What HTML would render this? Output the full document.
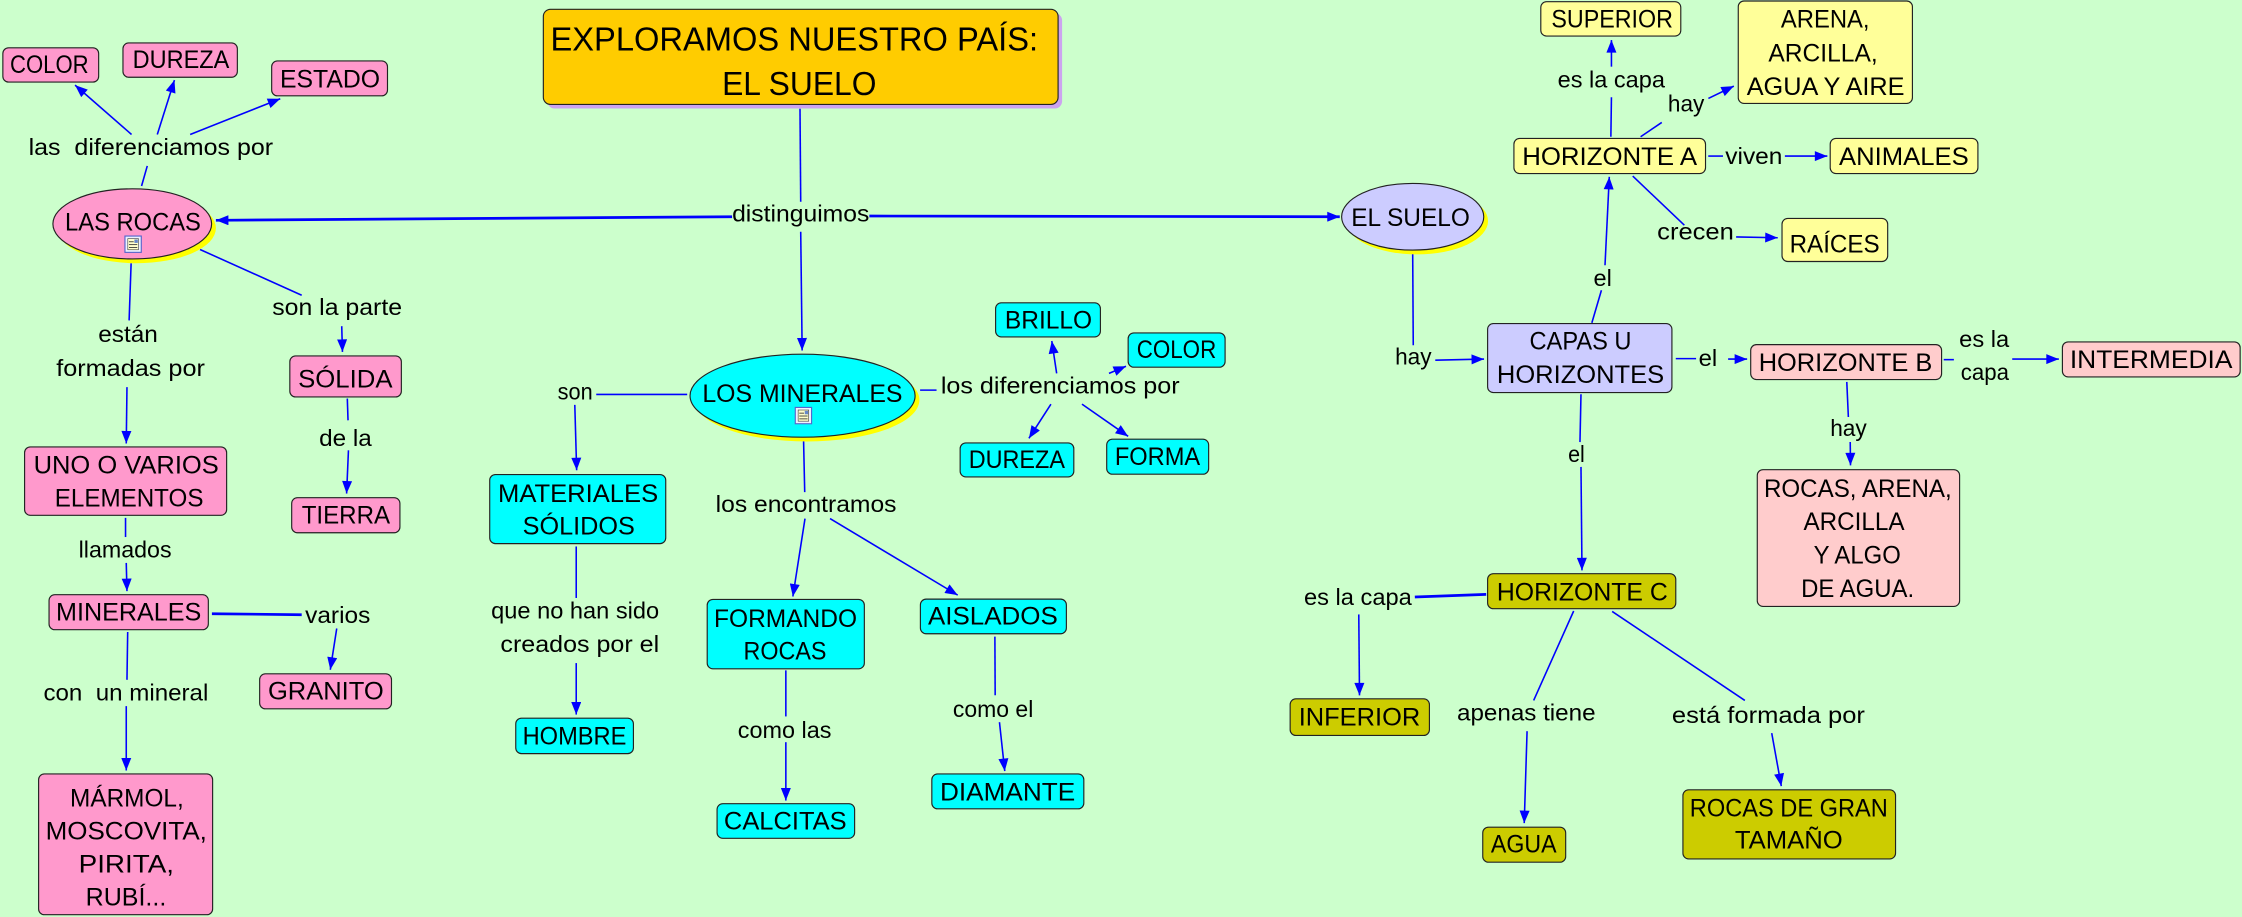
<!DOCTYPE html>
<html><head><meta charset="utf-8"><style>
html,body{margin:0;padding:0;background:#CCFFCC;}
svg{display:block;}
text{font-family:"Liberation Sans",sans-serif;fill:#000;}
.n{font-size:17.5px;}
.l{font-size:16px;}
.t{font-size:23.5px;}
.ln{stroke:#0000FF;stroke-width:1.1;fill:none;}
.lt{stroke:#0000FF;stroke-width:1.9;fill:none;}
.bx{stroke:#222;stroke-width:0.8;}
</style></head><body>
<svg width="2242" height="917" viewBox="0 0 1568 641" preserveAspectRatio="none" xmlns="http://www.w3.org/2000/svg">
<defs>
<marker id="a" viewBox="0 0 10 8" refX="10" refY="4" markerWidth="9" markerHeight="7" markerUnits="userSpaceOnUse" orient="auto"><path d="M0,0 L10,4 L0,8 z" fill="#0000FF"/></marker>
</defs>
<rect x="0" y="0" width="1568" height="641" fill="#CCFFCC"/>

<!-- connectors -->
<g class="ln">
<line x1="92" y1="94" x2="52.5" y2="59.5" marker-end="url(#a)"/>
<line x1="110" y1="94" x2="122" y2="56" marker-end="url(#a)"/>
<line x1="133" y1="94" x2="196" y2="69" marker-end="url(#a)"/>
<line x1="99" y1="130" x2="103" y2="116"/>
<line x1="559.5" y1="76" x2="560" y2="141"/>
<line x1="560" y1="162" x2="561" y2="245" marker-end="url(#a)"/>
<line x1="643.5" y1="272.7" x2="655" y2="272.7"/>
<line x1="739" y1="261" x2="735.6" y2="238.4" marker-end="url(#a)"/>
<line x1="775.6" y1="261" x2="787.5" y2="256" marker-end="url(#a)"/>
<line x1="735" y1="282.5" x2="719.6" y2="306.4" marker-end="url(#a)"/>
<line x1="756.7" y1="282.5" x2="789" y2="305" marker-end="url(#a)"/>
<line x1="417" y1="275.7" x2="480.6" y2="275.7"/>
<line x1="402" y1="283" x2="403.3" y2="328.7" marker-end="url(#a)"/>
<line x1="403" y1="382" x2="403" y2="418"/>
<line x1="403" y1="463.5" x2="403" y2="499.5" marker-end="url(#a)"/>
<line x1="562" y1="308" x2="562.8" y2="344"/>
<line x1="563" y1="362.5" x2="554.5" y2="417" marker-end="url(#a)"/>
<line x1="580.5" y1="362.5" x2="669.8" y2="416" marker-end="url(#a)"/>
<line x1="549.6" y1="468.6" x2="549.6" y2="500.8"/>
<line x1="549.6" y1="518.8" x2="549.6" y2="559.6" marker-end="url(#a)"/>
<line x1="695.8" y1="445" x2="696" y2="486"/>
<line x1="699" y1="504.8" x2="702.7" y2="539" marker-end="url(#a)"/>
<line x1="91.7" y1="184" x2="90.3" y2="224"/>
<line x1="88.8" y1="270.6" x2="88.3" y2="310" marker-end="url(#a)"/>
<line x1="139.9" y1="174.4" x2="211" y2="206.4"/>
<line x1="239" y1="228" x2="239.5" y2="246" marker-end="url(#a)"/>
<line x1="242.9" y1="278.6" x2="243.4" y2="293.8"/>
<line x1="243.7" y1="314.8" x2="242.4" y2="345" marker-end="url(#a)"/>
<line x1="87.8" y1="362" x2="87.8" y2="375.4"/>
<line x1="88.3" y1="393.5" x2="88.8" y2="413.2" marker-end="url(#a)"/>
<line x1="235.5" y1="439.3" x2="231" y2="468.2" marker-end="url(#a)"/>
<line x1="89.3" y1="441.8" x2="88.8" y2="475.2"/>
<line x1="88.3" y1="493.6" x2="88.3" y2="538.6" marker-end="url(#a)"/>
<line x1="988" y1="177" x2="988.4" y2="241.3"/>
<line x1="1003.8" y1="251.8" x2="1037.9" y2="251" marker-end="url(#a)"/>
<line x1="1113.3" y1="225.7" x2="1120" y2="202.9"/>
<line x1="1122.5" y1="185.4" x2="1125.5" y2="123.6" marker-end="url(#a)"/>
<line x1="1126.6" y1="95.6" x2="1127" y2="68"/>
<line x1="1127" y1="46.6" x2="1127" y2="28" marker-end="url(#a)"/>
<line x1="1147.4" y1="95.6" x2="1162.2" y2="85.6"/>
<line x1="1194.8" y1="68.8" x2="1212.6" y2="60.2" marker-end="url(#a)"/>
<line x1="1194.7" y1="109.1" x2="1205" y2="109.1"/>
<line x1="1248.3" y1="109.1" x2="1278" y2="109.1" marker-end="url(#a)"/>
<line x1="1141.9" y1="123.1" x2="1178" y2="157.4"/>
<line x1="1214.2" y1="165.6" x2="1243.3" y2="166.2" marker-end="url(#a)"/>
<line x1="1172" y1="250.7" x2="1186.2" y2="250.7"/>
<line x1="1208.6" y1="251" x2="1221.9" y2="251" marker-end="url(#a)"/>
<line x1="1359.4" y1="251.4" x2="1366.5" y2="251.4"/>
<line x1="1407.3" y1="251" x2="1439.9" y2="251" marker-end="url(#a)"/>
<line x1="1291.6" y1="267" x2="1292.7" y2="291.5"/>
<line x1="1294" y1="309" x2="1294.2" y2="325.3" marker-end="url(#a)"/>
<line x1="1105.7" y1="275.6" x2="1105" y2="309"/>
<line x1="1105.7" y1="326.4" x2="1106.4" y2="398.7" marker-end="url(#a)"/>
<line x1="950.3" y1="429.5" x2="950.8" y2="486.1" marker-end="url(#a)"/>
<line x1="1100.6" y1="427.1" x2="1072.6" y2="489.6"/>
<line x1="1068" y1="511.1" x2="1066" y2="575.4" marker-end="url(#a)"/>
<line x1="1127.5" y1="427.4" x2="1220.3" y2="489.6"/>
<line x1="1239.1" y1="512.5" x2="1245.8" y2="549.5" marker-end="url(#a)"/>
</g>
<g class="lt">
<line x1="512" y1="151.5" x2="151" y2="154" marker-end="url(#a)"/>
<line x1="608" y1="151" x2="937" y2="151.5" marker-end="url(#a)"/>
<line x1="148.2" y1="429" x2="211" y2="429.7"/>
<line x1="1039.4" y1="415.5" x2="989.5" y2="417.3"/>
</g>

<!-- title -->
<rect x="382.8" y="9.3" width="360" height="66.5" rx="5" fill="#CCA3F0"/>
<rect class="bx" x="380" y="6.5" width="360" height="66.5" rx="5" fill="#FFCC00"/>
<text class="t" x="385" y="35.4" textLength="341" lengthAdjust="spacingAndGlyphs">EXPLORAMOS NUESTRO PAÍS:</text>
<text class="t" x="505" y="66.4" textLength="108" lengthAdjust="spacingAndGlyphs">EL SUELO</text>

<!-- ellipses -->
<ellipse cx="95.5" cy="159.5" rx="55.5" ry="24.5" fill="#FFFF00"/>
<ellipse class="bx" cx="92.5" cy="156.5" rx="55.5" ry="24.5" fill="#FF99CC"/>
<ellipse cx="564.3" cy="279.6" rx="78.7" ry="29" fill="#FFFF00"/>
<ellipse class="bx" cx="561.3" cy="276.6" rx="78.7" ry="29" fill="#00FFFF"/>
<ellipse cx="991" cy="154.5" rx="49.7" ry="23.3" fill="#FFFF00"/>
<ellipse class="bx" cx="988" cy="151.5" rx="49.7" ry="23.3" fill="#CCCCFF" stroke-width="1.1"/>

<!-- icons -->
<g>
<rect x="87.4" y="165" width="11.4" height="11.4" fill="#EEF2FF" stroke="#5566CC" stroke-width="0.8"/>
<rect x="89.4" y="166.8" width="7.4" height="7.8" fill="#FFFFCC" stroke="#333" stroke-width="0.4"/>
<line x1="90.2" y1="169" x2="93.5" y2="169" stroke="#333" stroke-width="0.6"/>
<line x1="90.2" y1="171" x2="96" y2="171" stroke="#333" stroke-width="0.6"/>
<line x1="90.2" y1="173" x2="96" y2="173" stroke="#333" stroke-width="0.6"/>
<rect x="94" y="167.4" width="2.4" height="2.4" fill="#6688CC"/>
</g>
<g>
<rect x="556.2" y="284.8" width="11.4" height="11.4" fill="#EEF2FF" stroke="#5566CC" stroke-width="0.8"/>
<rect x="558.2" y="286.6" width="7.4" height="7.8" fill="#FFFFCC" stroke="#333" stroke-width="0.4"/>
<line x1="559" y1="288.8" x2="562.3" y2="288.8" stroke="#333" stroke-width="0.6"/>
<line x1="559" y1="290.8" x2="564.8" y2="290.8" stroke="#333" stroke-width="0.6"/>
<line x1="559" y1="292.8" x2="564.8" y2="292.8" stroke="#333" stroke-width="0.6"/>
<rect x="562.8" y="287.2" width="2.4" height="2.4" fill="#6688CC"/>
</g>

<!-- pink nodes -->
<g class="bx" fill="#FF99CC">
<rect x="2" y="33.4" width="67" height="24" rx="4"/>
<rect x="86" y="30" width="80" height="24" rx="4"/>
<rect x="190" y="42.6" width="81" height="24.4" rx="4"/>
<rect x="202.7" y="248.8" width="78" height="28.7" rx="4"/>
<rect x="204" y="347.9" width="75.7" height="24.5" rx="4"/>
<rect x="17.2" y="312.4" width="141.3" height="47.8" rx="4"/>
<rect x="34.3" y="415.7" width="111.4" height="24.5" rx="4"/>
<rect x="181.6" y="471" width="92.2" height="24.5" rx="4"/>
<rect x="27" y="541" width="121.7" height="98.4" rx="4"/>
</g>
<!-- cyan nodes -->
<g class="bx" fill="#00FFFF">
<rect x="696.3" y="211.7" width="73.3" height="23.8" rx="4"/>
<rect x="789" y="232.7" width="67.8" height="24" rx="4"/>
<rect x="671.5" y="309.6" width="79.5" height="23.8" rx="4"/>
<rect x="774" y="307" width="71.3" height="24.5" rx="4"/>
<rect x="342.5" y="331.7" width="123.1" height="48.3" rx="4"/>
<rect x="360.7" y="502" width="82.3" height="24.8" rx="4"/>
<rect x="494.6" y="419" width="109.9" height="48.5" rx="4"/>
<rect x="501.5" y="561.8" width="96.2" height="24.2" rx="4"/>
<rect x="643.7" y="418.8" width="102.1" height="24.2" rx="4"/>
<rect x="651.7" y="541" width="106.3" height="24.4" rx="4"/>
</g>
<!-- yellow nodes -->
<g class="bx" fill="#FFFF99">
<rect x="1077.6" y="1.2" width="97.9" height="24" rx="4"/>
<rect x="1215.7" y="0.7" width="121.8" height="71.6" rx="4"/>
<rect x="1058.8" y="96.8" width="134" height="24.5" rx="4"/>
<rect x="1280" y="96.8" width="103.3" height="24.5" rx="4"/>
<rect x="1246.3" y="152.7" width="73.9" height="30.1" rx="4"/>
</g>
<rect class="bx" x="1040.4" y="226.2" width="128.9" height="48.2" rx="4" fill="#CCCCFF"/>
<g class="bx" fill="#FFCCCC">
<rect x="1224.4" y="240.9" width="133.5" height="24.4" rx="4"/>
<rect x="1442.4" y="239" width="124.3" height="24.5" rx="4"/>
<rect x="1229" y="328.3" width="141.5" height="95.6" rx="4"/>
</g>
<g class="bx" fill="#CCCC00">
<rect x="1040.4" y="401" width="131.6" height="24.5" rx="4"/>
<rect x="902.3" y="488.5" width="97.4" height="25.6" rx="4"/>
<rect x="1037" y="578.2" width="58" height="24.5" rx="4"/>
<rect x="1177" y="552.1" width="148.7" height="48.3" rx="4"/>
</g>

<!-- node text -->
<g class="n">
<text x="7" y="51" textLength="55" lengthAdjust="spacingAndGlyphs">COLOR</text>
<text x="92.8" y="47.6" textLength="67.6" lengthAdjust="spacingAndGlyphs">DUREZA</text>
<text x="195.8" y="61" textLength="70" lengthAdjust="spacingAndGlyphs">ESTADO</text>
<text x="45.5" y="161.3" textLength="95" lengthAdjust="spacingAndGlyphs">LAS ROCAS</text>
<text x="208.5" y="271" textLength="66" lengthAdjust="spacingAndGlyphs">SÓLIDA</text>
<text x="211" y="366" textLength="61.8" lengthAdjust="spacingAndGlyphs">TIERRA</text>
<text x="23.5" y="331" textLength="129.5" lengthAdjust="spacingAndGlyphs">UNO O VARIOS</text>
<text x="38.3" y="353.9" textLength="104" lengthAdjust="spacingAndGlyphs">ELEMENTOS</text>
<text x="39.2" y="433.6" textLength="101.6" lengthAdjust="spacingAndGlyphs">MINERALES</text>
<text x="187.4" y="488.8" textLength="81" lengthAdjust="spacingAndGlyphs">GRANITO</text>
<text x="49" y="563.6" textLength="79.5" lengthAdjust="spacingAndGlyphs">MÁRMOL,</text>
<text x="31.9" y="586.7" textLength="112.8" lengthAdjust="spacingAndGlyphs">MOSCOVITA,</text>
<text x="55" y="610" textLength="66.7" lengthAdjust="spacingAndGlyphs">PIRITA,</text>
<text x="59.9" y="632.9" textLength="56.4" lengthAdjust="spacingAndGlyphs">RUBÍ...</text>

<text x="491.2" y="280.9" textLength="140" lengthAdjust="spacingAndGlyphs">LOS MINERALES</text>
<text x="702.8" y="229.6" textLength="61" lengthAdjust="spacingAndGlyphs">BRILLO</text>
<text x="795" y="250.1" textLength="55.6" lengthAdjust="spacingAndGlyphs">COLOR</text>
<text x="677.5" y="327" textLength="67.3" lengthAdjust="spacingAndGlyphs">DUREZA</text>
<text x="779.7" y="325.2" textLength="59.7" lengthAdjust="spacingAndGlyphs">FORMA</text>
<text x="348.3" y="350.8" textLength="112" lengthAdjust="spacingAndGlyphs">MATERIALES</text>
<text x="365.5" y="373.7" textLength="78.5" lengthAdjust="spacingAndGlyphs">SÓLIDOS</text>
<text x="365.5" y="520.5" textLength="72.6" lengthAdjust="spacingAndGlyphs">HOMBRE</text>
<text x="499.4" y="438.2" textLength="100" lengthAdjust="spacingAndGlyphs">FORMANDO</text>
<text x="520" y="461" textLength="58" lengthAdjust="spacingAndGlyphs">ROCAS</text>
<text x="506.3" y="580" textLength="85.8" lengthAdjust="spacingAndGlyphs">CALCITAS</text>
<text x="649" y="436.6" textLength="90.8" lengthAdjust="spacingAndGlyphs">AISLADOS</text>
<text x="657.4" y="559.4" textLength="94.6" lengthAdjust="spacingAndGlyphs">DIAMANTE</text>

<text x="945" y="158" textLength="83" lengthAdjust="spacingAndGlyphs">EL SUELO</text>
<text x="1069.7" y="244.3" textLength="71.3" lengthAdjust="spacingAndGlyphs">CAPAS U</text>
<text x="1046.9" y="267.6" textLength="117" lengthAdjust="spacingAndGlyphs">HORIZONTES</text>
<text x="1064.6" y="115.4" textLength="122.3" lengthAdjust="spacingAndGlyphs">HORIZONTE A</text>
<text x="1085" y="19.4" textLength="85" lengthAdjust="spacingAndGlyphs">SUPERIOR</text>
<text x="1245.5" y="19.1" textLength="62" lengthAdjust="spacingAndGlyphs">ARENA,</text>
<text x="1236.8" y="43.1" textLength="76.4" lengthAdjust="spacingAndGlyphs">ARCILLA,</text>
<text x="1221.6" y="66.4" textLength="110.4" lengthAdjust="spacingAndGlyphs">AGUA Y AIRE</text>
<text x="1286.2" y="115.4" textLength="90.7" lengthAdjust="spacingAndGlyphs">ANIMALES</text>
<text x="1251.6" y="176.5" textLength="63" lengthAdjust="spacingAndGlyphs">RAÍCES</text>
<text x="1230" y="259.2" textLength="121.4" lengthAdjust="spacingAndGlyphs">HORIZONTE B</text>
<text x="1447.6" y="257.1" textLength="113.7" lengthAdjust="spacingAndGlyphs">INTERMEDIA</text>
<text x="1233.7" y="347.3" textLength="131.3" lengthAdjust="spacingAndGlyphs">ROCAS, ARENA,</text>
<text x="1261.3" y="370.6" textLength="70.7" lengthAdjust="spacingAndGlyphs">ARCILLA</text>
<text x="1268.4" y="394" textLength="61" lengthAdjust="spacingAndGlyphs">Y ALGO</text>
<text x="1259.7" y="417.3" textLength="79" lengthAdjust="spacingAndGlyphs">DE AGUA.</text>
<text x="1046.9" y="419.6" textLength="119.5" lengthAdjust="spacingAndGlyphs">HORIZONTE C</text>
<text x="908.3" y="507" textLength="85" lengthAdjust="spacingAndGlyphs">INFERIOR</text>
<text x="1042.7" y="596" textLength="45.9" lengthAdjust="spacingAndGlyphs">AGUA</text>
<text x="1181.8" y="570.6" textLength="138.5" lengthAdjust="spacingAndGlyphs">ROCAS DE GRAN</text>
<text x="1213.3" y="593.2" textLength="75.5" lengthAdjust="spacingAndGlyphs">TAMAÑO</text>
</g>

<!-- link labels -->
<g class="l">
<text x="20" y="108.4" textLength="171" lengthAdjust="spacingAndGlyphs" xml:space="preserve">las  diferenciamos por</text>
<text x="512" y="155" textLength="96" lengthAdjust="spacingAndGlyphs">distinguimos</text>
<text x="68.7" y="239" textLength="41.7" lengthAdjust="spacingAndGlyphs">están</text>
<text x="39.3" y="263" textLength="104" lengthAdjust="spacingAndGlyphs">formadas por</text>
<text x="190.4" y="220.3" textLength="90.8" lengthAdjust="spacingAndGlyphs">son la parte</text>
<text x="223.2" y="311.7" textLength="36.8" lengthAdjust="spacingAndGlyphs">de la</text>
<text x="55" y="389.7" textLength="65" lengthAdjust="spacingAndGlyphs">llamados</text>
<text x="213.4" y="435.4" textLength="45.6" lengthAdjust="spacingAndGlyphs">varios</text>
<text x="30.4" y="489.5" textLength="115.3" lengthAdjust="spacingAndGlyphs" xml:space="preserve">con  un mineral</text>
<text x="658" y="275" textLength="167" lengthAdjust="spacingAndGlyphs">los diferenciamos por</text>
<text x="390" y="279.3" textLength="24.5" lengthAdjust="spacingAndGlyphs">son</text>
<text x="343.5" y="432.4" textLength="117.5" lengthAdjust="spacingAndGlyphs">que no han sido</text>
<text x="350" y="455.7" textLength="111" lengthAdjust="spacingAndGlyphs">creados por el</text>
<text x="500.5" y="357.8" textLength="126.5" lengthAdjust="spacingAndGlyphs">los encontramos</text>
<text x="516" y="515.8" textLength="65.5" lengthAdjust="spacingAndGlyphs">como las</text>
<text x="666.4" y="501.2" textLength="56.3" lengthAdjust="spacingAndGlyphs">como el</text>
<text x="975.7" y="254.8" textLength="25.5" lengthAdjust="spacingAndGlyphs">hay</text>
<text x="1114.5" y="199.8" textLength="12.8" lengthAdjust="spacingAndGlyphs">el</text>
<text x="1089.4" y="61.3" textLength="75" lengthAdjust="spacingAndGlyphs">es la capa</text>
<text x="1166.5" y="78.1" textLength="25.5" lengthAdjust="spacingAndGlyphs">hay</text>
<text x="1206.6" y="114.7" textLength="40" lengthAdjust="spacingAndGlyphs">viven</text>
<text x="1159" y="167.4" textLength="53.6" lengthAdjust="spacingAndGlyphs">crecen</text>
<text x="1188" y="256" textLength="13" lengthAdjust="spacingAndGlyphs">el</text>
<text x="1370.2" y="242.4" textLength="35" lengthAdjust="spacingAndGlyphs">es la</text>
<text x="1371.3" y="265.7" textLength="33.7" lengthAdjust="spacingAndGlyphs">capa</text>
<text x="1280" y="304.7" textLength="25.6" lengthAdjust="spacingAndGlyphs">hay</text>
<text x="1096.7" y="322.9" textLength="11.7" lengthAdjust="spacingAndGlyphs">el</text>
<text x="912" y="423" textLength="75.4" lengthAdjust="spacingAndGlyphs">es la capa</text>
<text x="1019" y="503.5" textLength="96.9" lengthAdjust="spacingAndGlyphs">apenas tiene</text>
<text x="1169.3" y="505.4" textLength="135" lengthAdjust="spacingAndGlyphs">está formada por</text>
</g>
</svg>
</body></html>
